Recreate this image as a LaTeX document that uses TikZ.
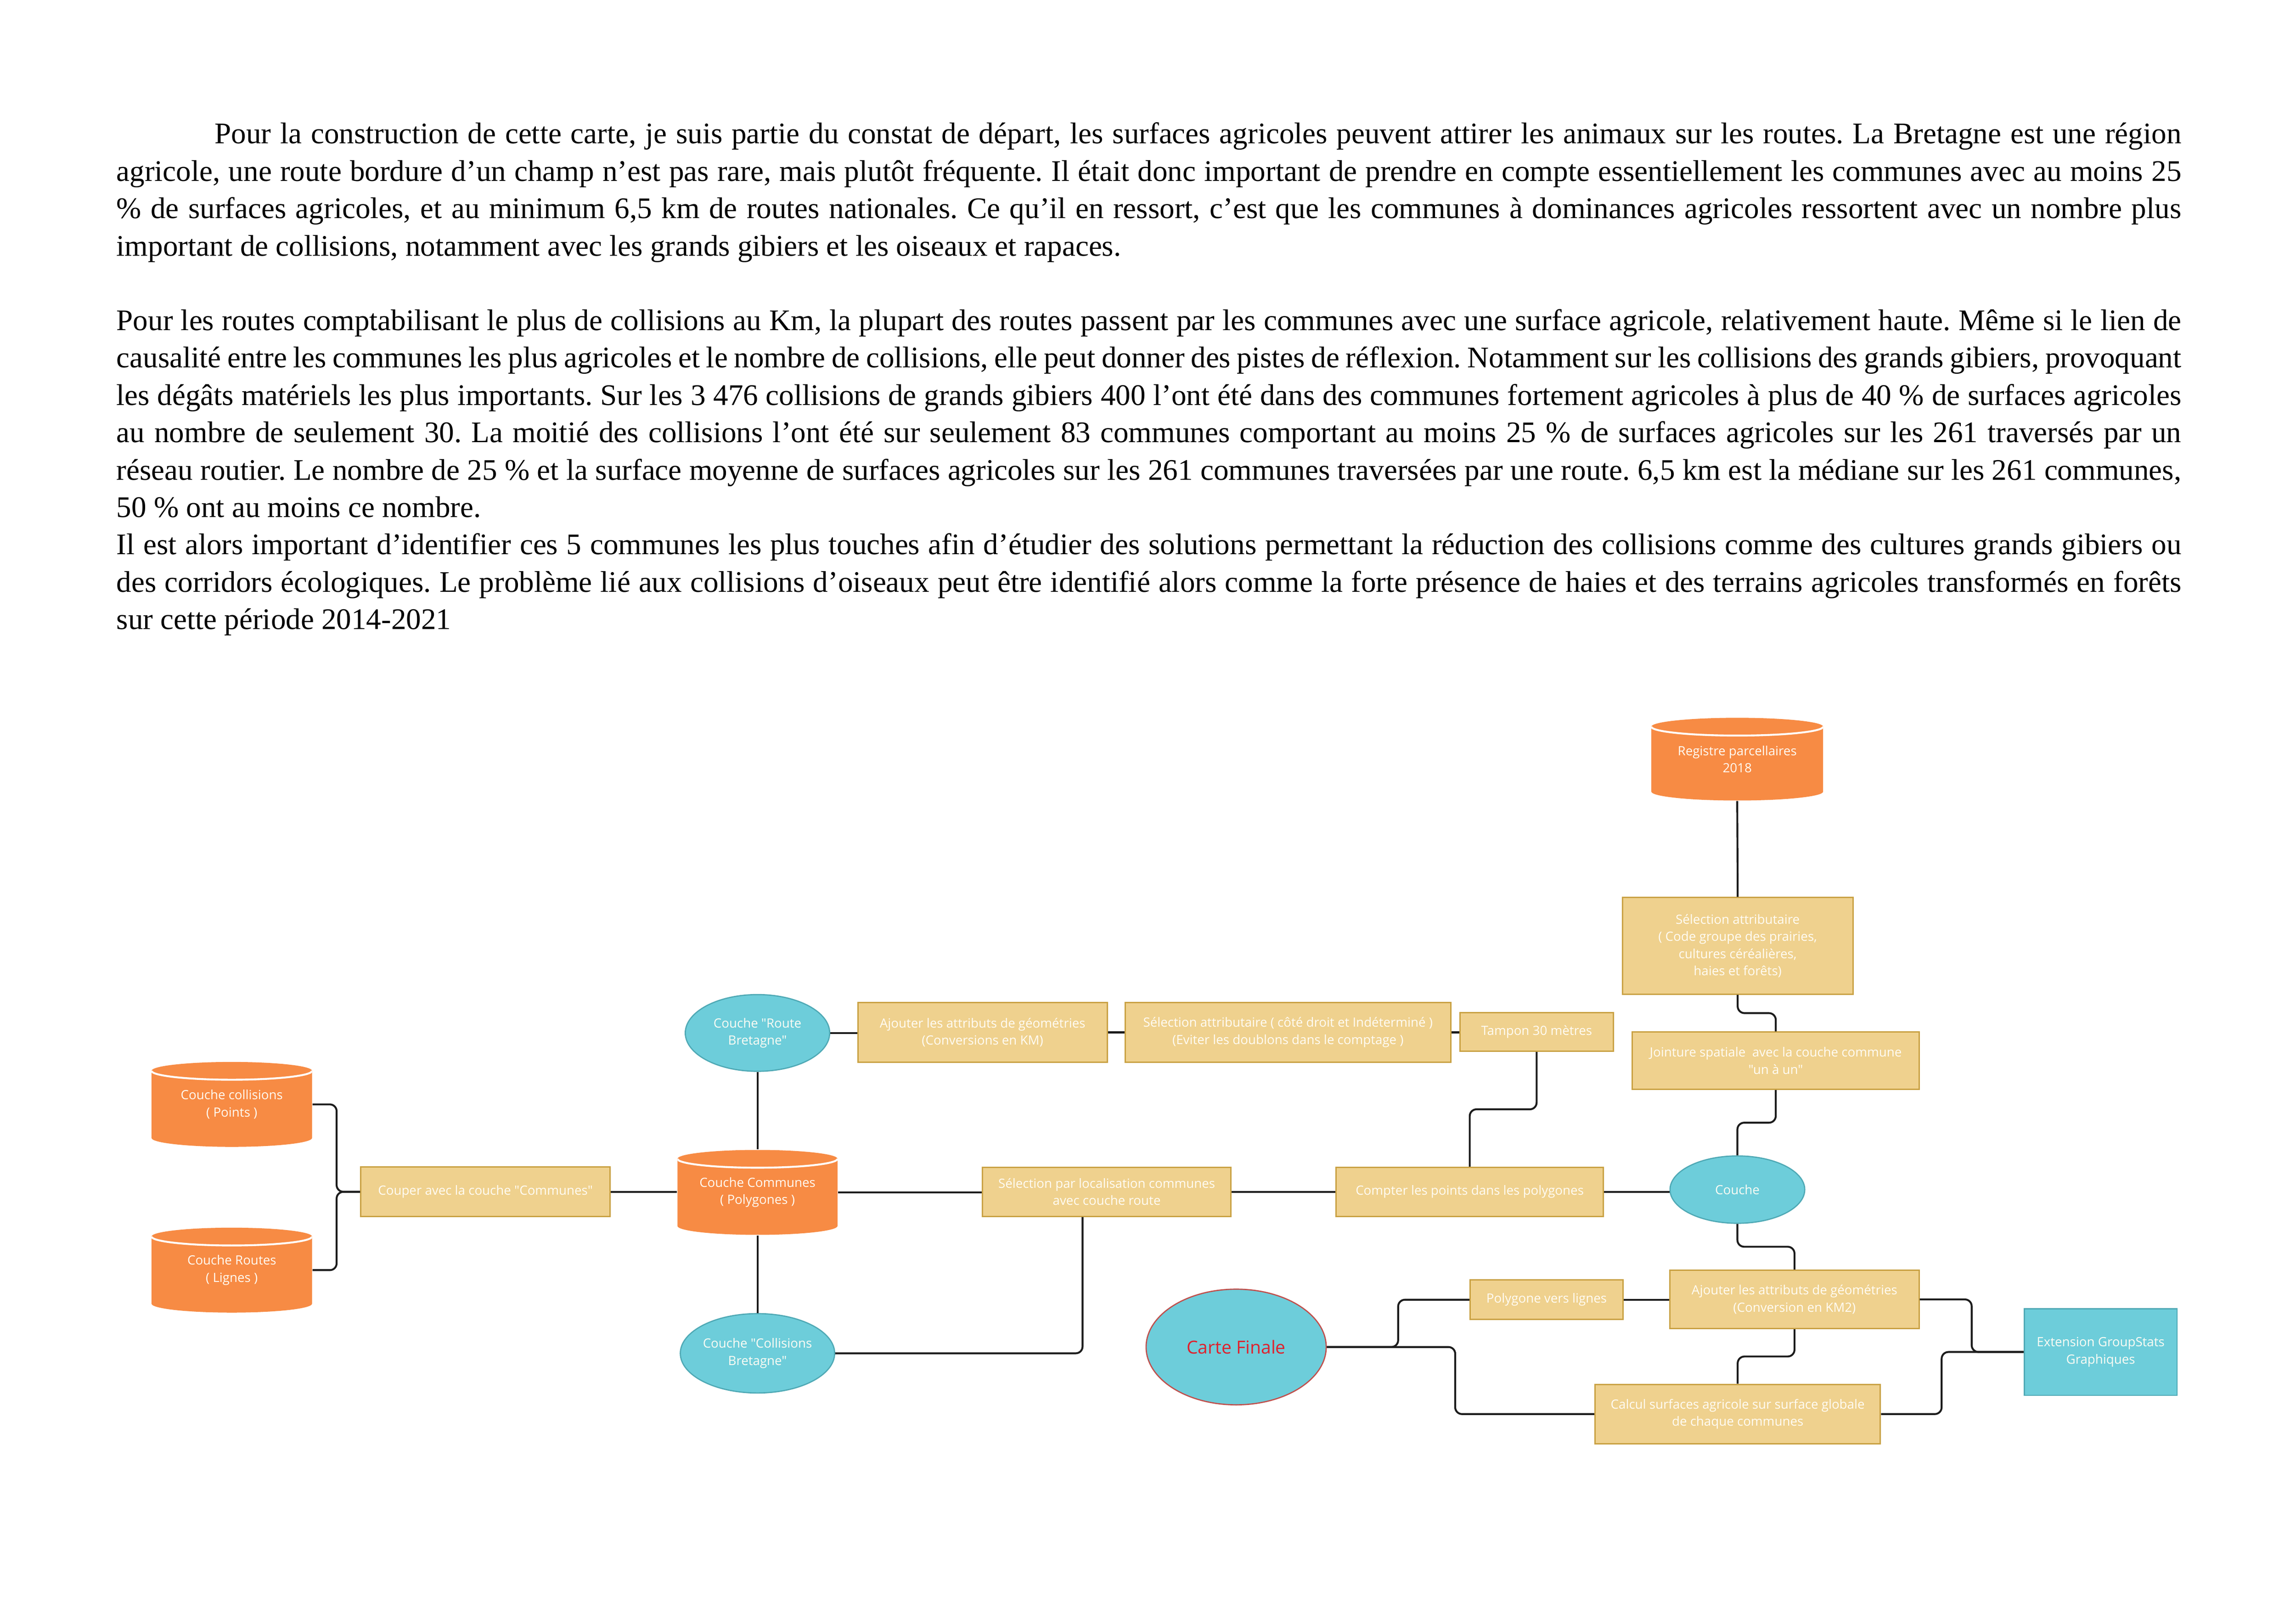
\documentclass[tikz,border=0pt]{standalone}
\usepackage{fontspec}
\setmainfont{Liberation Serif}
\newfontfamily\diagfont{Open Sans}
\usetikzlibrary{calc,shapes.geometric}
\definecolor{orangec}{HTML}{F78B44}
\definecolor{boxfill}{HTML}{EFD18E}
\definecolor{boxdraw}{HTML}{C9A143}
\definecolor{cyanc}{HTML}{6DCDDA}
\definecolor{cyandraw}{HTML}{4FA9B5}
\definecolor{redb}{HTML}{C0504D}
\definecolor{redt}{HTML}{E0202C}
\definecolor{linec}{HTML}{1C1C1C}
\definecolor{dtextc}{HTML}{FFFCF4}
\def\U{*0.01894cm}
\def\cylry{0.115cm}
\newcommand\fullline[1]{\makebox[26.7cm][s]{\strut #1}}
\newcommand\lastline[1]{\makebox[26.7cm][l]{\strut #1}}
\frenchspacing
\begin{document}
\begin{tikzpicture}[x=0.018941cm,y=-0.018936cm,
  dtext/.style={text=dtextc,font=\diagfont\fontsize{4.68}{6.35}\selectfont,align=center,inner sep=0pt},
  box/.style={dtext,rectangle,draw=boxdraw,fill=boxfill,line width=0.5pt},
  ell/.style={dtext,ellipse,draw=cyandraw,fill=cyanc,line width=0.45pt},
  ext/.style={dtext,rectangle,draw=cyandraw,fill=cyanc,line width=0.45pt},
  cyl/.style={dtext,rectangle,fill=white,
    path picture={
      \fill[orangec] let \p1=(path picture bounding box.north west),
        \p2=(path picture bounding box.south east), \n1={(\x2-\x1)/2} in
        (\x1,\y1-\cylry) -- (\x1,\y2+\cylry)
        arc[start angle=180,end angle=360,x radius=\n1,y radius=\cylry]
        -- (\x2,\y1-\cylry)
        arc[start angle=0,end angle=180,x radius=\n1,y radius=\cylry] -- cycle;
      \draw[white,line width=0.7pt] let \p1=(path picture bounding box.north west),
        \p2=(path picture bounding box.south east), \n1={(\x2-\x1)/2} in
        (\x1,\y1-\cylry)
        arc[start angle=180,end angle=360,x radius=\n1,y radius=\cylry];
    }},
  conn/.style={draw=linec,line width=0.7pt,rounded corners=2.5pt},
  para/.style={anchor=north west,inner sep=0pt,align=left,
    font=\fontsize{11}{13.75}\selectfont}]
\useasboundingbox (0,0) rectangle (1568,1109);

% ---------- text ----------
\node[para] (p1) at (79.2,79.9) {%
\fullline{\hspace*{1.27cm}Pour la construction de cette carte, je suis partie du constat de départ, les surfaces agricoles peuvent attirer les animaux sur les routes. La Bretagne est une région}\\
\fullline{agricole, une route bordure d’un champ n’est pas rare, mais plutôt fréquente. Il était donc important de prendre en compte essentiellement les communes avec au moins 25}\\
\fullline{\% de surfaces agricoles, et au minimum 6,5 km de routes nationales. Ce qu’il en ressort, c’est que les communes à dominances agricoles ressortent avec un nombre plus}\\
\lastline{important de collisions, notamment avec les grands gibiers et les oiseaux et rapaces.}};

\node[para] (p2) at (79.2,207.4) {%
\fullline{Pour les routes comptabilisant le plus de collisions au Km, la plupart des routes passent par les communes avec une surface agricole, relativement haute. Même si le lien de}\\
\fullline{causalité entre les communes les plus agricoles et le nombre de collisions, elle peut donner des pistes de réflexion. Notamment sur les collisions des grands gibiers, provoquant}\\
\fullline{les dégâts matériels les plus importants. Sur les 3 476 collisions de grands gibiers 400 l’ont été dans des communes fortement agricoles à plus de 40 \% de surfaces agricoles}\\
\fullline{au nombre de seulement 30. La moitié des collisions l’ont été sur seulement 83 communes comportant au moins 25 \% de surfaces agricoles sur les 261 traversés par un}\\
\fullline{réseau routier. Le nombre de 25 \% et la surface moyenne de surfaces agricoles sur les 261 communes traversées par une route. 6,5 km est la médiane sur les 261 communes,}\\
\lastline{50 \% ont au moins ce nombre.}\\
\fullline{Il est alors important d’identifier ces 5 communes les plus touches afin d’étudier des solutions permettant la réduction des collisions comme des cultures grands gibiers ou}\\
\fullline{des corridors écologiques. Le problème lié aux collisions d’oiseaux peut être identifié alors comme la forte présence de haies et des terrains agricoles transformés en forêts}\\
\lastline{sur cette période 2014-2021}};

% ---------- cylinders ----------
\node[cyl,minimum width=109.6\U,minimum height=58\U] (collisions) at (158.3,754.3) {Couche collisions\\( Points )};
\node[cyl,minimum width=109.6\U,minimum height=58\U] (routes) at (158.3,867.5) {Couche Routes\\( Lignes )};
\node[cyl,minimum width=109.3\U,minimum height=58\U] (communes) at (517.3,814.4) {Couche Communes\\( Polygones )};
\node[cyl,minimum width=117.3\U,minimum height=56.5\U] (registre) at (1186.4,518.5) {Registre parcellaires\\2018};

% ---------- ellipses ----------
\node[ell,minimum width=98.6\U,minimum height=52.4\U] (routebret) at (517.3,705.5) {Couche "Route\\Bretagne"};
\node[ell,minimum width=98.6\U,minimum height=54.2\U] (collbret) at (517.3,924.3) {Couche "Collisions\\Bretagne"};
\node[ell,minimum width=92\U,minimum height=46\U] (couche) at (1186.5,812.5) {Couche};
\node[ell,draw=redb,text=redt,font=\diagfont\fontsize{6.6}{8}\selectfont,minimum width=123\U,minimum height=79\U] (carte) at (844.2,920) {Carte Finale};

% ---------- boxes ----------
\node[box,minimum width=170.3\U,minimum height=34\U] (couper) at (331.5,814) {Couper avec la couche "Communes"};
\node[box,minimum width=170.3\U,minimum height=40.7\U] (ajkm) at (671,705.1) {Ajouter les attributs de géométries\\(Conversions en KM)};
\node[box,minimum width=222.4\U,minimum height=40.7\U] (selattr) at (879.6,705.1) {Sélection attributaire ( côté droit et Indéterminé )\\(Eviter les doublons dans le comptage )};
\node[box,minimum width=104.6\U,minimum height=26.5\U] (tampon) at (1049.4,704.8) {Tampon 30 mètres};
\node[box,minimum width=169.5\U,minimum height=33.5\U] (selloc) at (755.8,814) {Sélection par localisation communes\\avec couche route};
\node[box,minimum width=182.5\U,minimum height=33.5\U] (compter) at (1003.7,814) {Compter les points dans les polygones};
\node[box,minimum width=157.5\U,minimum height=65.9\U] (selcode) at (1186.7,646) {Sélection attributaire\\( Code groupe des prairies,\\cultures céréalières,\\haies et forêts)};
\node[box,minimum width=196.2\U,minimum height=39.1\U] (jointure) at (1212.7,724.5) {Jointure spatiale\ \ avec la couche commune\\"un à un"};
\node[box,minimum width=170.1\U,minimum height=39.8\U] (ajkm2) at (1225.5,887.5) {Ajouter les attributs de géométries\\(Conversion en KM2)};
\node[box,minimum width=104.4\U,minimum height=26.9\U] (polyg) at (1056.2,887.7) {Polygone vers lignes};
\node[box,minimum width=194.9\U,minimum height=40.5\U] (calcul) at (1186.7,965.8) {Calcul surfaces agricole sur surface globale\\de chaque communes};
\node[ext,minimum width=104.4\U,minimum height=59.2\U] (extension) at (1434.6,923.4) {Extension GroupStats\\Graphiques};

% ---------- connectors ----------
\draw[conn] (collisions.east) -| ([xshift=-16\U]couper.west) -- (couper.west);
\draw[conn] (routes.east) -| ([xshift=-16\U]couper.west) -- (couper.west);
\draw[conn] (couper.east) -- (couper.east -| communes.west);
\draw[conn] (routebret.south) -- (communes.north);
\draw[conn] (communes.south) -- (collbret.north);
\draw[conn] (routebret.east) -- (routebret.east -| ajkm.west);
\draw[conn] (ajkm.east) -- (selattr.west);
\draw[conn] (selattr.east) -- (selattr.east -| tampon.west);
\draw[conn] (communes.east) -- (communes.east -| selloc.west);
\draw[conn] (selloc.east) -- (compter.west);
\draw[conn] (compter.east) -- (compter.east -| couche.west);
\draw[conn] (collbret.east) -| ([xshift=-16.5\U]selloc.south);
\draw[conn] (tampon.south) |- ($(tampon.south)!.5!(compter.north)$) -| (compter.north);
\draw[conn] (registre.south) -- (selcode.north);
\draw[conn] (selcode.south) |- ($(selcode.south)!.5!(jointure.north)$) -| (jointure.north);
\draw[conn] (jointure.south) |- ($(jointure.south)!.5!(couche.north)$) -| (couche.north);
\draw[conn] (couche.south) |- ($(couche.south)!.5!(ajkm2.north)$) -| (ajkm2.north);
\draw[conn] (ajkm2.south) |- ($(ajkm2.south)!.5!(calcul.north)$) -| (calcul.north);
\draw[conn] (polyg.east) -- (polyg.east -| ajkm2.west);
\draw[conn] (carte.east) -| ($(carte.east)!.5!(polyg.west)$) |- (polyg.west);
\draw[conn] (carte.east) -| ([xshift=-95\U]calcul.west) -- (calcul.west);
\draw[conn] (ajkm2.east) -| ($(ajkm2.east)!.5!(extension.west)$) |- (extension.west);
\draw[conn] (calcul.east) -| ([xshift=-56\U]extension.west) -- (extension.west);
\end{tikzpicture}
\end{document}
